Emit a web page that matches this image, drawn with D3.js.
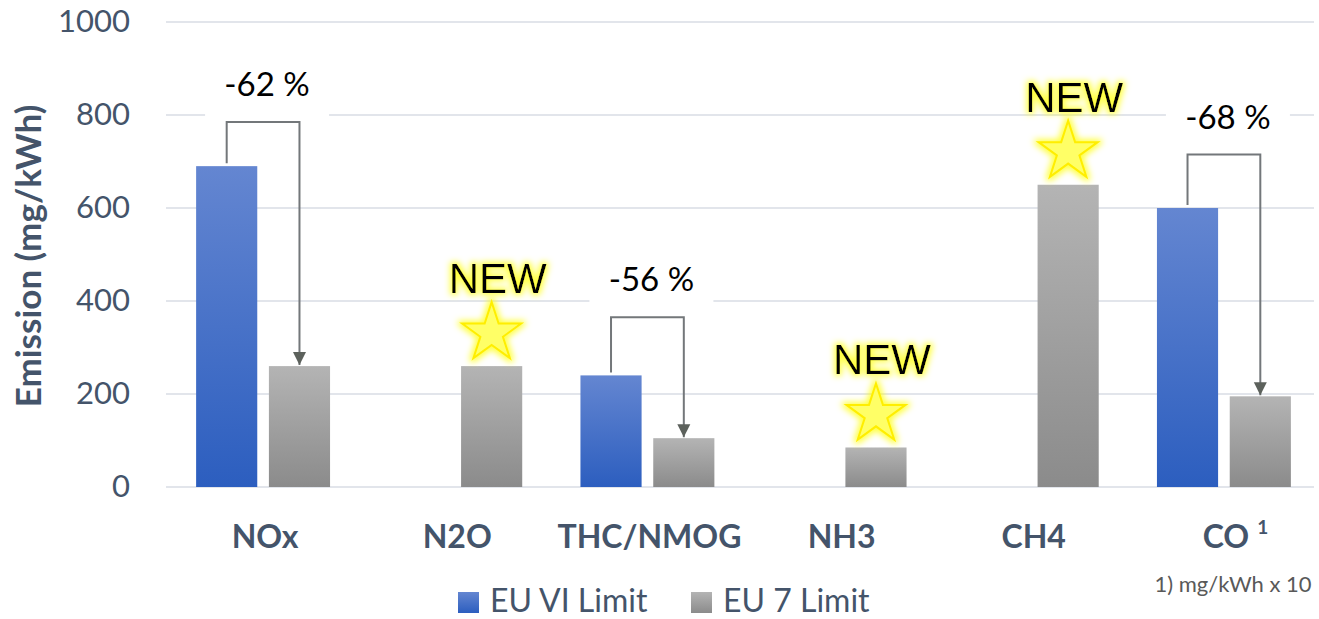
<!DOCTYPE html>
<html>
<head>
<meta charset="utf-8">
<script src="https://cdn.jsdelivr.net/npm/d3@7"></script>
<style>
  body { margin: 0; background: #fff; }
  svg { display: block; }
</style>
</head>
<body>
<div id="chart"></div>
<script>
const categories = ["NOx", "N2O", "THC/NMOG", "NH3", "CH4", "CO"];
const series = ["EU VI Limit", "EU 7 Limit"];
const euVI = [690, null, 240, null, null, 600];
const eu7 = [260, 260, 105, 85, 650, 195];
const yTicks = [0, 200, 400, 600, 800, 1000];
// reduction brackets: category, label, level of the bracket (mg/kWh)
const reductions = [
  { cat: "NOx", label: "-62 %", level: 785 },
  { cat: "THC/NMOG", label: "-56 %", level: 365 },
  { cat: "CO", label: "-68 %", level: 715 }
];
const newCats = ["N2O", "NH3", "CH4"];

const width = 1319, height = 619;
const textCol = "#44546a";
const fontMain = "Lato, 'Open Sans', sans-serif";

const svg = d3.select("#chart").append("svg")
  .attr("width", width)
  .attr("height", height);

const defs = svg.append("defs");

const grads = [
  { id: "gBlue", top: "#6486d1", bottom: "#2c5ebf" },
  { id: "gGray", top: "#b4b4b4", bottom: "#8b8b8b" }
];
grads.forEach(g => {
  const lg = defs.append("linearGradient").attr("id", g.id)
    .attr("x1", 0).attr("y1", 0).attr("x2", 0).attr("y2", 1);
  lg.append("stop").attr("offset", "0%").attr("stop-color", g.top);
  lg.append("stop").attr("offset", "100%").attr("stop-color", g.bottom);
});

const glow = defs.append("filter").attr("id", "glow")
  .attr("x", "-30%").attr("y", "-30%").attr("width", "160%").attr("height", "160%");
glow.append("feMorphology").attr("in", "SourceAlpha").attr("operator", "dilate")
  .attr("radius", 2).attr("result", "d");
glow.append("feGaussianBlur").attr("in", "d").attr("stdDeviation", 3).attr("result", "b");
glow.append("feFlood").attr("flood-color", "#ffff00").attr("flood-opacity", 0.75);
glow.append("feComposite").attr("in2", "b").attr("operator", "in").attr("result", "g");
const merge = glow.append("feMerge");
merge.append("feMergeNode").attr("in", "g");
merge.append("feMergeNode").attr("in", "SourceGraphic");

const marker = defs.append("marker").attr("id", "arrow")
  .attr("viewBox", "0 0 10 10").attr("refX", 10).attr("refY", 5)
  .attr("markerUnits", "userSpaceOnUse")
  .attr("markerWidth", 13).attr("markerHeight", 14)
  .attr("orient", "auto");
marker.append("path").attr("d", "M0,0 L10,5 L0,10 Z").attr("fill", "#5c615c");

const x0 = d3.scaleBand().domain(categories).range([167, 1320]).paddingInner(0);
const x1 = d3.scaleBand().domain(series).range([0, x0.bandwidth()])
  .paddingInner(0.16).paddingOuter(0.4);
const y = d3.scaleLinear().domain([0, 1000]).range([487, 22]);

// gridlines
svg.append("g").selectAll("line").data(yTicks).join("line")
  .attr("x1", 166).attr("x2", 1314)
  .attr("y1", d => y(d)).attr("y2", d => y(d))
  .attr("stroke", "#d9dde4").attr("stroke-width", 1.5);

// y axis labels
const yAxis = svg.append("g").attr("transform", "translate(166,0)")
  .call(d3.axisLeft(y).tickValues(yTicks).tickFormat(d3.format("d")).tickSize(0).tickPadding(36));
yAxis.select(".domain").remove();
yAxis.selectAll("text")
  .attr("fill", textCol).style("font-family", fontMain).style("font-size", "31px");

svg.append("text")
  .attr("transform", "translate(41,256) rotate(-90)")
  .attr("text-anchor", "middle")
  .attr("fill", textCol).style("font-family", fontMain)
  .style("font-size", "35px").style("font-weight", "bold")
  .text("Emission (mg/kWh)");

// bars
const rows = categories.map((c, i) => ({ cat: c, vals: [euVI[i], eu7[i]] }));
const groups = svg.append("g").selectAll("g").data(rows).join("g")
  .attr("transform", d => `translate(${x0(d.cat)},0)`);
groups.selectAll("rect")
  .data(d => d.vals.map((v, j) => ({ s: series[j], v: v })).filter(e => e.v != null))
  .join("rect")
  .attr("x", e => x1(e.s))
  .attr("width", x1.bandwidth())
  .attr("y", e => y(e.v))
  .attr("height", e => y(0) - y(e.v))
  .attr("fill", e => e.s === series[0] ? "url(#gBlue)" : "url(#gGray)");

// category labels
const catLabels = svg.append("g").selectAll("text").data(categories).join("text")
  .attr("x", d => x0(d) + x0.bandwidth() / 2 + 2)
  .attr("y", 548)
  .attr("text-anchor", "middle")
  .attr("fill", textCol).style("font-family", fontMain)
  .style("font-size", "32px").style("font-weight", "bold")
  .text(d => d);
const coNode = catLabels.filter(d => d === "CO").node();
const coW = coNode.getComputedTextLength();
svg.append("text")
  .attr("x", x0("CO") + x0.bandwidth() / 2 + 2 + coW / 2 + 8)
  .attr("y", 534)
  .attr("fill", textCol).style("font-family", fontMain)
  .style("font-size", "19px").style("font-weight", "bold")
  .text("1");

svg.append("text")
  .attr("x", 1233).attr("y", 592)
  .attr("text-anchor", "middle")
  .attr("fill", "#595959").style("font-family", fontMain)
  .style("font-size", "22px")
  .text("1) mg/kWh x 10");

// reduction brackets
const barMid = (cat, s) => x0(cat) + x1(s) + x1.bandwidth() / 2;
const valOf = (cat, arr) => arr[categories.indexOf(cat)];
const red = svg.append("g").selectAll("g").data(reductions).join("g");
red.append("path")
  .attr("d", d => {
    const xa = barMid(d.cat, series[0]), xb = barMid(d.cat, series[1]);
    const ya = y(valOf(d.cat, euVI)) - 3, yb = y(valOf(d.cat, eu7)) - 1;
    const yl = y(d.level);
    return `M${xa},${ya} V${yl} H${xb} V${yb}`;
  })
  .attr("fill", "none").attr("stroke", "#73777a").attr("stroke-width", 2)
  .attr("marker-end", "url(#arrow)");
red.append("rect")
  .attr("x", d => (barMid(d.cat, series[0]) + barMid(d.cat, series[1])) / 2 + 4 - 62)
  .attr("y", d => y(d.level) - 37 - 28)
  .attr("width", 124).attr("height", 60)
  .attr("fill", "#fff");
red.append("text")
  .attr("x", d => (barMid(d.cat, series[0]) + barMid(d.cat, series[1])) / 2 + 4)
  .attr("y", d => y(d.level) - 37 + 11)
  .attr("text-anchor", "middle")
  .attr("fill", "#000").style("font-family", fontMain).style("font-size", "33px")
  .text(d => d.label);

// NEW stars
const star = d3.symbol().type(d3.symbolStar).size(1079);
const news = svg.append("g").selectAll("g").data(newCats).join("g")
  .attr("transform", d => `translate(${barMid(d, series[1])},${y(valOf(d, eu7)) - 33})`);
news.append("path")
  .attr("d", star())
  .attr("fill", "#ffff66").attr("stroke", "#ffee00").attr("stroke-width", 2)
  .attr("filter", "url(#glow)");
news.append("text")
  .attr("x", 6).attr("y", -40)
  .attr("text-anchor", "middle")
  .attr("fill", "#000").style("font-family", "'Liberation Sans', Arial, sans-serif")
  .style("font-size", "42px")
  .attr("filter", "url(#glow)")
  .text("NEW");

// legend
const legend = svg.append("g").selectAll("g").data(series).join("g")
  .attr("transform", (d, i) => `translate(${i === 0 ? 458 : 691},592)`);
legend.append("rect").attr("width", 21).attr("height", 21)
  .attr("fill", (d, i) => i === 0 ? "url(#gBlue)" : "url(#gGray)");
legend.append("text").attr("x", 32).attr("y", 20)
  .attr("fill", textCol).style("font-family", fontMain).style("font-size", "32px")
  .text(d => d);
</script>
</body>
</html>
